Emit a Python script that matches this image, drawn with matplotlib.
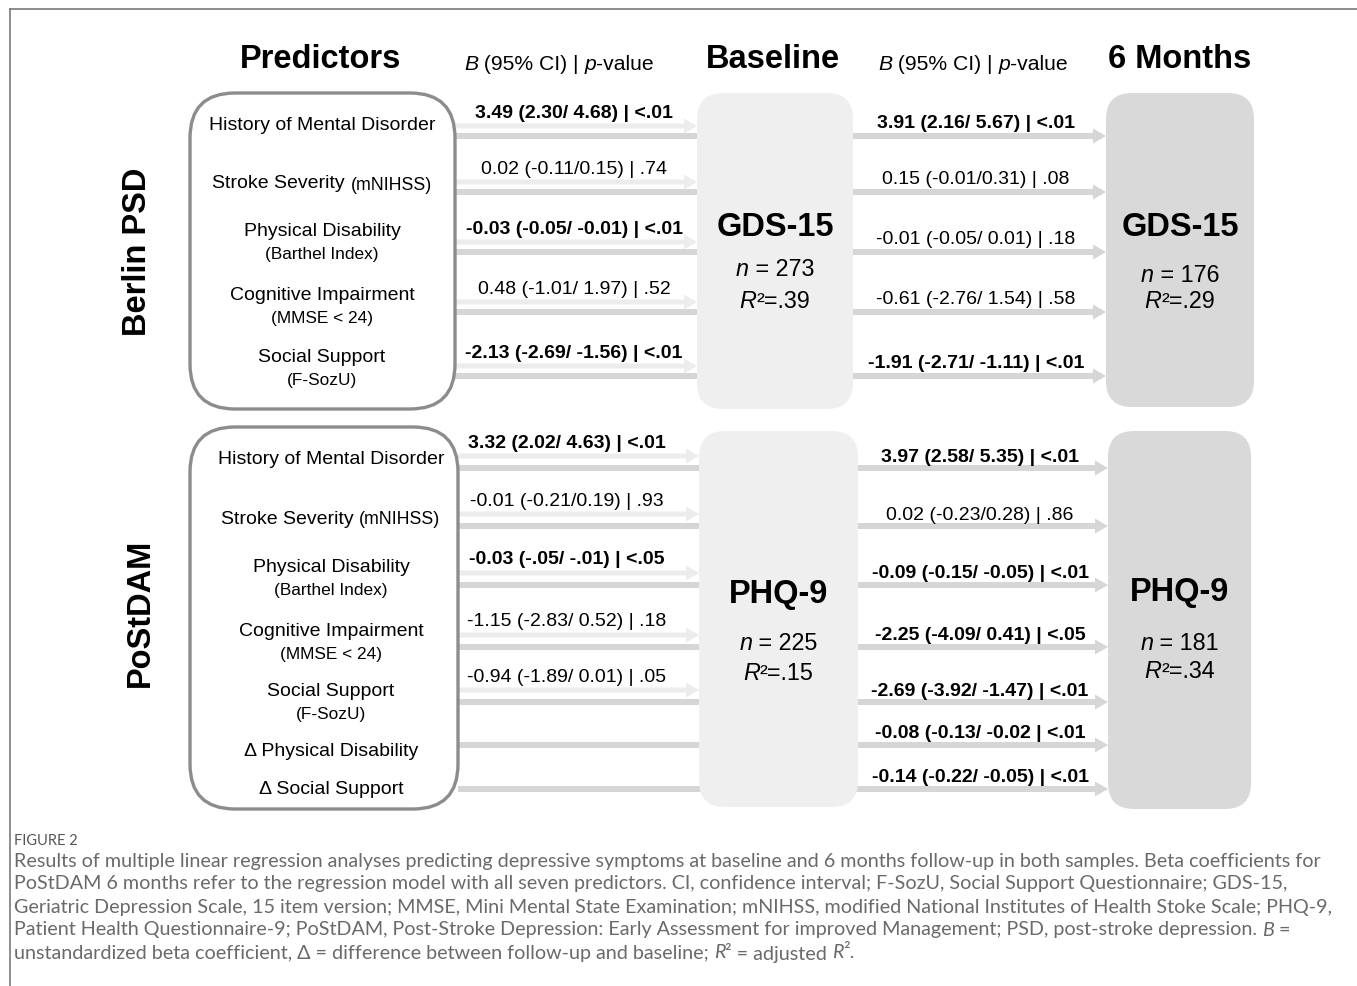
"""
Regression path diagram (Figure 2)
"""
import matplotlib.pyplot as plt
from matplotlib.patches import FancyBboxPatch, FancyArrow

plt.rcParams['font.family'] = ['Liberation Sans', 'DejaVu Sans']

# ---------------- data ----------------
berlin_labels = ["History of Mental Disorder", "Stroke Severity", "Physical Disability",
                 "Cognitive Impairment", "Social Support"]
berlin_inline = ["", "(mNIHSS)", "", "", ""]
berlin_sublabels = ["", "", "(Barthel Index)", "(MMSE < 24)", "(F-SozU)"]
berlin_base = ["3.49 (2.30/ 4.68) | <.01", "0.02 (-0.11/0.15) | .74",
               "-0.03 (-0.05/ -0.01) | <.01", "0.48 (-1.01/ 1.97) | .52",
               "-2.13 (-2.69/ -1.56) | <.01"]
berlin_base_sig = [True, False, True, False, True]
berlin_6m = ["3.91 (2.16/ 5.67) | <.01", "0.15 (-0.01/0.31) | .08",
             "-0.01 (-0.05/ 0.01) | .18", "-0.61 (-2.76/ 1.54) | .58",
             "-1.91 (-2.71/ -1.11) | <.01"]
berlin_6m_sig = [True, False, False, False, True]
berlin_outcome = "GDS-15"
berlin_n = ["273", "176"]
berlin_r2 = [".39", ".29"]

postdam_labels = ["History of Mental Disorder", "Stroke Severity", "Physical Disability",
                  "Cognitive Impairment", "Social Support", "\u0394 Physical Disability",
                  "\u0394 Social Support"]
postdam_inline = ["", "(mNIHSS)", "", "", "", "", ""]
postdam_sublabels = ["", "", "(Barthel Index)", "(MMSE < 24)", "(F-SozU)", "", ""]
postdam_base = ["3.32 (2.02/ 4.63) | <.01", "-0.01 (-0.21/0.19) | .93",
                "-0.03 (-.05/ -.01) | <.05", "-1.15 (-2.83/ 0.52) | .18",
                "-0.94 (-1.89/ 0.01) | .05", None, None]
postdam_base_sig = [True, False, True, False, False, False, False]
postdam_6m = ["3.97 (2.58/ 5.35) | <.01", "0.02 (-0.23/0.28) | .86",
              "-0.09 (-0.15/ -0.05) | <.01", "-2.25 (-4.09/ 0.41) | <.05",
              "-2.69 (-3.92/ -1.47) | <.01", "-0.08 (-0.13/ -0.02 | <.01",
              "-0.14 (-0.22/ -0.05) | <.01"]
postdam_6m_sig = [True, False, True, True, True, True, True]
postdam_outcome = "PHQ-9"
postdam_n = ["225", "181"]
postdam_r2 = [".15", ".34"]

caption_lines = [
    [("Results of multiple linear regression analyses predicting depressive symptoms at baseline "
      "and 6 months follow-up in both samples. Beta coefficients for", "normal")],
    [("PoStDAM 6 months refer to the regression model with all seven predictors. CI, confidence "
      "interval; F-SozU, Social Support Questionnaire; GDS-15,", "normal")],
    [("Geriatric Depression Scale, 15 item version; MMSE, Mini Mental State Examination; mNIHSS, "
      "modified National Institutes of Health Stoke Scale; PHQ-9,", "normal")],
    [("Patient Health Questionnaire-9; PoStDAM, Post-Stroke Depression: Early Assessment for "
      "improved Management; PSD, post-stroke depression. ", "normal"), ("B", "italic"), (" =", "normal")],
    [("unstandardized beta coefficient, \u0394 = difference between follow-up and baseline; ", "normal"),
     ("R", "italic"), ("\u00b2 = adjusted ", "normal"), ("R", "italic"), ("\u00b2.", "normal")],
]

# ---------------- layout (pixels) ----------------
W, H = 1357, 987
fig = plt.figure(figsize=(W / 100, H / 100), dpi=100)
ax = fig.add_axes([0, 0, 1, 1])
ax.set_xlim(0, W)
ax.set_ylim(H, 0)
ax.axis('off')
renderer = fig.canvas.get_renderer()

LIGHT = '#ececec'
DARK = '#d6d6d6'
BOX6 = '#d9d9d9'


def rich(x, y, parts, ha='center', **kw):
    """draw text made of (string, style) parts side by side"""
    texts = []
    for s, style in parts:
        t = ax.text(x, y, s, ha='left', va='center', style=style, **kw)
        texts.append(t)
    widths = [t.get_window_extent(renderer).width for t in texts]
    total = sum(widths)
    start = x - total / 2 if ha == 'center' else x
    for t, w in zip(texts, widths):
        t.set_x(start)
        start += w
    return texts


def rbox(x0, y0, x1, y1, r, face, edge='none', lw=0, z=2):
    p = FancyBboxPatch((x0, y0), x1 - x0, y1 - y0,
                       boxstyle=f"round,pad=0,rounding_size={r}",
                       facecolor=face, edgecolor=edge, linewidth=lw, zorder=z)
    ax.add_patch(p)


def arrow(x0, x1, y, color, width=6, z=1):
    ax.add_patch(FancyArrow(x0, y, x1 - x0, 0, width=width, head_width=15,
                            head_length=13, length_includes_head=True,
                            color=color, lw=0, zorder=z))


def panel(labels, inline, subs, base, base_sig, six, six_sig, outcome, n, r2,
          box, base_box, six_box, rows_y, label_y, label_x, base_x, six_x,
          light_off, base_off, six_off, out_y, side, side_y):
    # predictor box
    rbox(*box, 45, 'white', edge='#8c8c8c', lw=2.4, z=3)
    rbox(*base_box, 26, '#efefef', z=2)
    rbox(*six_box, 26, BOX6, z=2)
    x_start = box[2]
    for i, lab in enumerate(labels):
        yd = rows_y[i]
        # predictor -> 6 months (passes behind baseline box)
        arrow(x_start, six_box[0], yd, DARK, width=6, z=1)
        ax.text(six_x, yd - six_off, six[i], ha='center', va='center', fontsize=14,
                fontweight='bold' if six_sig[i] else 'normal', zorder=5)
        # predictor -> baseline
        if base[i] is not None:
            arrow(x_start, base_box[0], yd - light_off, LIGHT, width=5, z=1.5)
            ax.text(base_x, yd - light_off - base_off, base[i], ha='center', va='center',
                    fontsize=14, fontweight='bold' if base_sig[i] else 'normal', zorder=5)
        # predictor labels
        if inline[i]:
            t1 = ax.text(0, label_y[i], lab + " ", ha='left', va='center', fontsize=14, zorder=5)
            t2 = ax.text(0, label_y[i] + 1, inline[i], ha='left', va='center', fontsize=12.8, zorder=5)
            w1 = t1.get_window_extent(renderer).width
            w2 = t2.get_window_extent(renderer).width
            t1.set_x(label_x - (w1 + w2) / 2)
            t2.set_x(label_x - (w1 + w2) / 2 + w1)
        else:
            ax.text(label_x, label_y[i], lab, ha='center', va='center', fontsize=14, zorder=5)
        if subs[i]:
            ax.text(label_x, label_y[i] + 23, subs[i], ha='center', va='center',
                    fontsize=12.4, zorder=5)
    # outcome boxes text
    for k, bx in enumerate([base_box, six_box]):
        cx = (bx[0] + bx[2]) / 2
        ax.text(cx, out_y[k][0], outcome, ha='center', va='center', fontsize=23.5,
                fontweight='bold', zorder=5)
        rich(cx, out_y[k][1], [("n", "italic"), (" = " + n[k], "normal")], fontsize=16.8, zorder=5)
        rich(cx, out_y[k][2], [("R", "italic"), ("\u00b2=" + r2[k], "normal")], fontsize=16.8, zorder=5)
    ax.text(side[0], side_y, side[1], rotation=90, ha='center', va='center',
            fontsize=23.5, fontweight='bold')


# frame lines
ax.plot([10, 10], [10, H], color='#7a7a7a', lw=1.2)
ax.plot([10, W], [10, 10], color='#7a7a7a', lw=1.2)

# headers
ax.text(321, 60, "Predictors", ha='center', va='center', fontsize=23.5, fontweight='bold')
ax.text(773, 60, "Baseline", ha='center', va='center', fontsize=23.5, fontweight='bold')
ax.text(1180, 60, "6 Months", ha='center', va='center', fontsize=23.5, fontweight='bold')
for hx in [559, 973]:
    rich(hx, 65, [("B", "italic"), (" (95% CI) | ", "normal"), ("p", "italic"), ("-value", "normal")],
         fontsize=15.2)

panel(berlin_labels, berlin_inline, berlin_sublabels, berlin_base, berlin_base_sig,
      berlin_6m, berlin_6m_sig, berlin_outcome, berlin_n, berlin_r2,
      box=(190, 94, 455, 410), base_box=(697, 94, 853, 410), six_box=(1106, 94, 1254, 408),
      rows_y=[137, 193, 253, 313, 377], label_y=[125, 184, 232, 296, 357],
      label_x=322, base_x=574, six_x=976, light_off=10, base_off=13, six_off=13,
      out_y=[(228, 270, 301), (228, 275, 302)], side=(137, "Berlin PSD"), side_y=252)

panel(postdam_labels, postdam_inline, postdam_sublabels, postdam_base, postdam_base_sig,
      postdam_6m, postdam_6m_sig, postdam_outcome, postdam_n, postdam_r2,
      box=(190, 428, 458, 810), base_box=(699, 432, 858, 808), six_box=(1108, 432, 1251, 810),
      rows_y=[469, 527, 586, 648, 703, 746, 790], label_y=[460, 519, 567, 631, 692, 751, 790],
      label_x=331, base_x=567, six_x=980, light_off=12, base_off=14, six_off=12,
      out_y=[(594, 643, 673), (593, 644, 672)], side=(140, "PoStDAM"), side_y=613)

# caption
ax.text(14, 841, "FIGURE 2", ha='left', va='center', fontsize=10.5, color='#555555',
        family=['Lato', 'DejaVu Sans'])
for i, line in enumerate(caption_lines):
    rich(14, 861 + 23 * i, line, ha='left', fontsize=14.2, color='#6a6a6a',
         family=['Lato', 'DejaVu Sans'])

plt.savefig("out.png", dpi=100)
